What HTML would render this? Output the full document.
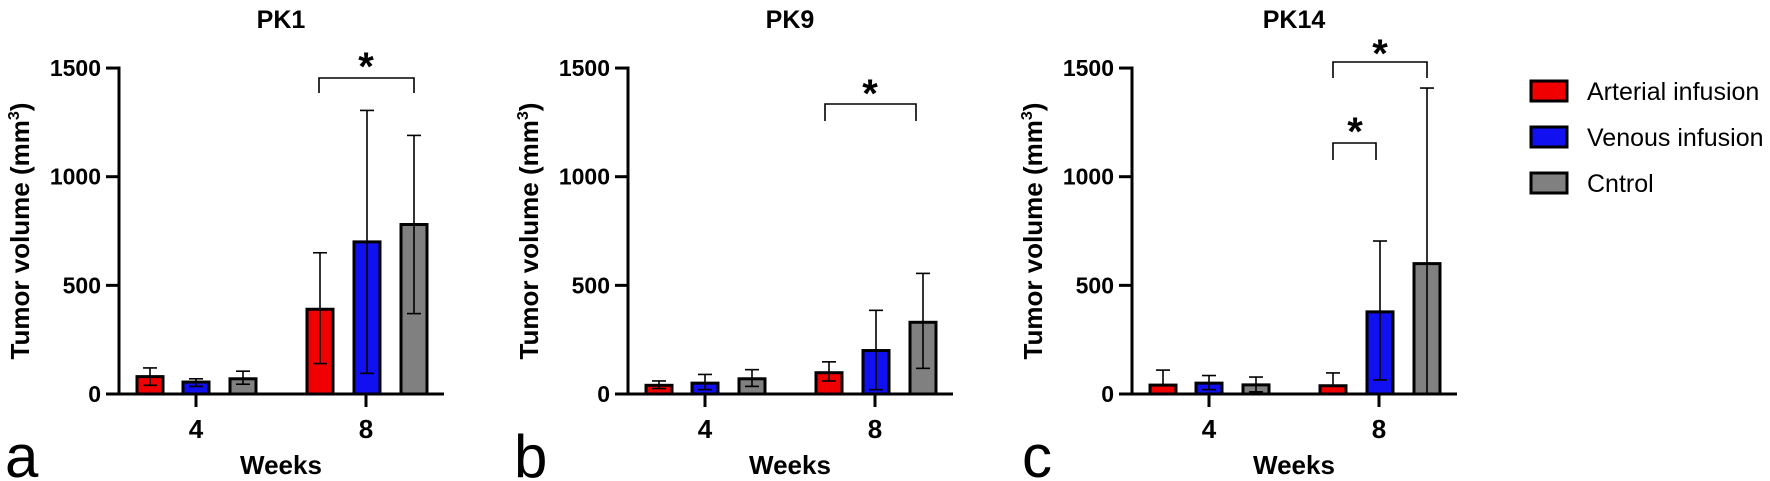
<!DOCTYPE html>
<html><head><meta charset="utf-8"><style>
html,body{margin:0;padding:0;background:#fff;}
svg{display:block;font-family:"Liberation Sans",Arial,sans-serif;}
</style></head><body>
<svg id="s" width="1770" height="481" viewBox="0 0 1770 481" xmlns="http://www.w3.org/2000/svg"></svg>
<script>
var s=document.getElementById('s');var h='';
var Z=394,K=0.2173;
function y(v){return Z-v*K;}
var cols=['#f00000','#1010f0','#808080'];
var offs=[31,77,124,201,248,295];
var panels=[
 {x:119,t:'PK1',L:'a',lx:5,d:[[80,40,120],[55,35,70],[70,45,105],[390,140,650],[700,95,1305],[780,370,1190]],
  br:[[319,414,78,93,366,55]]},
 {x:628,t:'PK9',L:'b',lx:514,d:[[40,25,60],[50,20,90],[70,35,112],[98,60,148],[200,20,385],[330,118,555]],
  br:[[825,916,104,121,870,82]]},
 {x:1132,t:'PK14',L:'c',lx:1022,d:[[41,41,110],[50,20,85],[42,10,78],[38,38,97],[378,65,704],[600,0,1408]],
  br:[[1333,1427,62,78,1380,42],[1333,1376,143,160,1355,120]]}
];
panels.forEach(function(p){
 var X=p.x;
 h+='<text x="'+(X+162)+'" y="28" font-size="25" font-weight="bold" text-anchor="middle">'+p.t+'</text>';
 h+='<text transform="translate('+(X-90)+',231) rotate(-90)" font-size="26" font-weight="bold" text-anchor="middle">Tumor volume (mm<tspan font-size="16" dy="-10">3</tspan><tspan dy="10">)</tspan></text>';
 [0,500,1000,1500].forEach(function(v){
  h+='<line x1="'+(X-13)+'" x2="'+X+'" y1="'+y(v)+'" y2="'+y(v)+'" stroke="#000" stroke-width="3"/>';
  h+='<text x="'+(X-18)+'" y="'+(y(v)+8)+'" font-size="23" font-weight="bold" text-anchor="end">'+v+'</text>';
 });
 p.d.forEach(function(b,i){
  var cx=X+offs[i],w=26,c=cols[i%3];
  var top=y(b[0]);
  h+='<rect x="'+(cx-w/2)+'" y="'+top+'" width="'+w+'" height="'+(Z-top)+'" fill="'+c+'" stroke="#000" stroke-width="3"/>';
  h+='<line x1="'+cx+'" x2="'+cx+'" y1="'+y(b[1])+'" y2="'+y(b[2])+'" stroke="#000" stroke-width="1.6"/>';
  h+='<line x1="'+(cx-7)+'" x2="'+(cx+7)+'" y1="'+y(b[2])+'" y2="'+y(b[2])+'" stroke="#000" stroke-width="1.6"/>';
  if(b[1]>0)h+='<line x1="'+(cx-7)+'" x2="'+(cx+7)+'" y1="'+y(b[1])+'" y2="'+y(b[1])+'" stroke="#000" stroke-width="1.6"/>';
 });
 h+='<line x1="'+X+'" x2="'+X+'" y1="'+(y(1500)-1.5)+'" y2="'+Z+'" stroke="#000" stroke-width="3"/>';
 h+='<line x1="'+(X-1.5)+'" x2="'+(X+325)+'" y1="'+Z+'" y2="'+Z+'" stroke="#000" stroke-width="3"/>';
 [[77,'4'],[247,'8']].forEach(function(t){
  h+='<line x1="'+(X+t[0])+'" x2="'+(X+t[0])+'" y1="'+Z+'" y2="'+(Z+13)+'" stroke="#000" stroke-width="3"/>';
  h+='<text x="'+(X+t[0])+'" y="438" font-size="26" font-weight="bold" text-anchor="middle">'+t[1]+'</text>';
 });
 h+='<text x="'+(X+162)+'" y="474" font-size="26" font-weight="bold" text-anchor="middle">Weeks</text>';
 h+='<text x="'+p.lx+'" y="477" font-size="60">'+p.L+'</text>';
 p.br.forEach(function(b){
  h+='<polyline points="'+b[0]+','+b[3]+' '+b[0]+','+b[2]+' '+b[1]+','+b[2]+' '+b[1]+','+b[3]+'" fill="none" stroke="#000" stroke-width="1.6"/>';
  h+='<text x="'+b[4]+'" y="'+(b[5]+25)+'" font-size="40" font-weight="bold" text-anchor="middle">*</text>';
 });
});
var lg=[['Arterial infusion',cols[0]],['Venous infusion',cols[1]],['Cntrol',cols[2]]];
lg.forEach(function(l,i){
 var yy=91+i*46;
 h+='<rect x="1531" y="'+(yy-10)+'" width="36" height="20" fill="'+l[1]+'" stroke="#000" stroke-width="3"/>';
 h+='<text x="1587" y="'+(yy+9)+'" font-size="25">'+l[0]+'</text>';
});
s.innerHTML=h;
</script>
</body></html>
